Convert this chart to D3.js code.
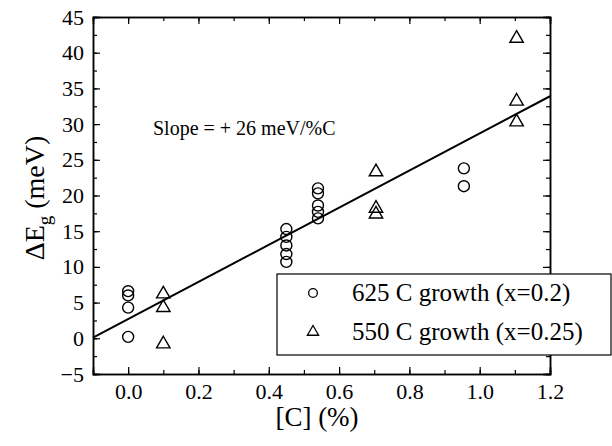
<!doctype html>
<html lang="en">
<head>
<meta charset="utf-8">
<title>Band gap shift vs carbon</title>
<script src="https://d3js.org/d3.v7.min.js"></script>
<style>
  body { margin: 0; background: #fff; }
  .axis path, .axis line { stroke: #000; }
</style>
</head>
<body>
<div id="chart"></div>
<script>
// data
var carbon625 = [0, 0, 0, 0, 0.45, 0.45, 0.45, 0.45, 0.45, 0.54, 0.54, 0.54, 0.54, 0.54, 0.955, 0.955];
var shift625  = [6.6, 6.0, 4.3, 0.2, 15.3, 14.2, 13.0, 11.8, 10.7, 21.0, 20.3, 18.6, 17.7, 16.8, 23.8, 21.3];
var carbon550 = [0.1, 0.1, 0.1, 0.705, 0.705, 0.705, 1.105, 1.105, 1.105];
var shift550  = [6.2, 4.3, -0.8, 23.3, 18.2, 17.4, 42.0, 33.2, 30.3];
var xTicks = [0, 0.2, 0.4, 0.6, 0.8, 1.0, 1.2];
var yTicks = [-5, 0, 5, 10, 15, 20, 25, 30, 35, 40, 45];
var fitSlope = 26, fitIntercept = 2.7;
var legendLabels = ["625 C growth (x=0.2)", "550 C growth (x=0.25)"];

var FONT = '"Liberation Serif", "DejaVu Serif", "Times New Roman", serif';
var W = 612, H = 446;
var svg = d3.select("#chart").append("svg").attr("width", W).attr("height", H)
  .style("font-family", FONT);

var x = d3.scaleLinear().domain([-0.1, 1.2]).range([93, 550]);
var y = d3.scaleLinear().domain([-5, 45]).range([374, 17]);

var xMinor = d3.range(-0.1, 1.21, 0.1).map(function (d) { return +d.toFixed(2); });
var yMinor = d3.range(-5, 45.1, 2.5);

function axis(gen, pos, ticks, size, labels) {
  var g = svg.append("g").attr("class", "axis").attr("transform", pos)
    .call(gen.tickValues(ticks).tickSize(size).tickPadding(labels ? 9 : 0)
      .tickFormat(labels ? labels : function () { return ""; }));
  g.attr("font-family", null);
  g.select(".domain").attr("stroke-width", 1.5);
  g.selectAll("line").attr("stroke-width", 1.2);
  g.selectAll("text").style("font-family", FONT).style("font-size", "22px").attr("fill", "#000");
  return g;
}

// minor ticks
axis(d3.axisBottom(x), "translate(0,374)", xMinor, -4);
axis(d3.axisTop(x), "translate(0,17)", xMinor, -4);
axis(d3.axisLeft(y), "translate(93,0)", yMinor, -4);
axis(d3.axisRight(y), "translate(550,0)", yMinor, -4);
// major ticks
axis(d3.axisBottom(x), "translate(0,374)", xTicks, -7, d3.format(".1f"));
axis(d3.axisTop(x), "translate(0,17)", xTicks, -7);
axis(d3.axisLeft(y), "translate(93,0)", yTicks, -7, d3.format("d"));
axis(d3.axisRight(y), "translate(550,0)", yTicks, -7);

// fit line
svg.append("line")
  .attr("x1", x(-0.1)).attr("y1", y(fitIntercept + fitSlope * -0.1))
  .attr("x2", x(1.2)).attr("y2", y(fitIntercept + fitSlope * 1.2))
  .attr("stroke", "#000").attr("stroke-width", 2);

// markers
var circ = d3.symbol().type(d3.symbolCircle).size(95);
var tri = d3.symbol().type(d3.symbolTriangle).size(78);

svg.append("g").selectAll("path").data(carbon625).enter().append("path")
  .attr("d", circ)
  .attr("transform", function (d, i) { return "translate(" + x(d) + "," + y(shift625[i]) + ")"; })
  .attr("fill", "none").attr("stroke", "#000").attr("stroke-width", 1.4);

svg.append("g").selectAll("path").data(carbon550).enter().append("path")
  .attr("d", tri)
  .attr("transform", function (d, i) { return "translate(" + x(d) + "," + y(shift550[i]) + ")"; })
  .attr("fill", "none").attr("stroke", "#000").attr("stroke-width", 1.4);

// annotation
svg.append("text").attr("x", 153).attr("y", 135).style("font-size", "20px")
  .text("Slope = + 26 meV/%C");

// axis titles
svg.append("text").attr("x", 317).attr("y", 426).attr("text-anchor", "middle")
  .style("font-size", "27px").text("[C] (%)");

var yl = svg.append("text").attr("transform", "translate(44,198) rotate(-90)")
  .attr("text-anchor", "middle").style("font-size", "28px");
yl.append("tspan").text("\u0394E");
yl.append("tspan").attr("dy", 7).style("font-size", "19px").text("g");
yl.append("tspan").attr("dy", -7).text(" (meV)");

// legend
var lg = svg.append("g");
lg.append("rect").attr("x", 277).attr("y", 274).attr("width", 334).attr("height", 81)
  .attr("fill", "#fff").attr("stroke", "#000").attr("stroke-width", 1.2);
[circ, tri].forEach(function (sym, i) {
  var cy = 293 + i * 39;
  lg.append("path").attr("d", sym.size(i ? 55 : 60))
    .attr("transform", "translate(313," + cy + ")")
    .attr("fill", "none").attr("stroke", "#000").attr("stroke-width", 1.3);
  lg.append("text").attr("x", 352).attr("y", cy + 8).style("font-size", "25px")
    .text(legendLabels[i]);
});
</script>
</body>
</html>
